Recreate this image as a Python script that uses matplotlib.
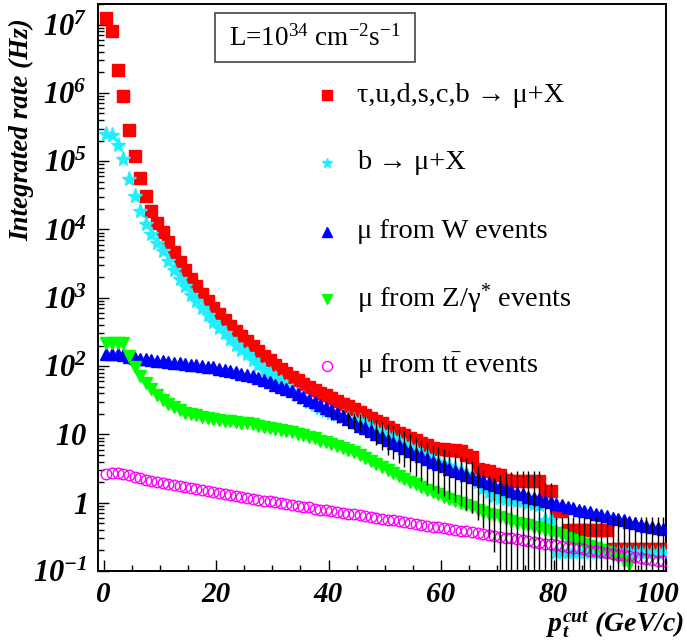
import numpy as np
import matplotlib
matplotlib.use("Agg")
import matplotlib.pyplot as plt
from matplotlib.patches import Rectangle
from matplotlib.transforms import blended_transform_factory
from matplotlib.ticker import FixedLocator, MultipleLocator, LogLocator, NullFormatter

plt.rcParams['mathtext.fontset'] = 'custom'
plt.rcParams['mathtext.rm'] = 'Liberation Serif'
plt.rcParams['mathtext.it'] = 'Liberation Serif:italic'
plt.rcParams['mathtext.bf'] = 'Liberation Serif:bold:italic'
plt.rcParams['font.family'] = ['Liberation Serif', 'DejaVu Serif']

# ---------------- data (log10 of integrated rate in Hz, per 1 GeV/c bin) ----------------
pt_centers = np.arange(100) + 0.5

log_all = [7.09, 6.90, 6.34, 5.95, 5.46, 5.07, 4.76, 4.49, 4.27, 4.10,
           3.96, 3.81, 3.67, 3.53, 3.41, 3.27, 3.17, 3.06, 2.96, 2.85,
           2.76, 2.68, 2.59, 2.51, 2.44, 2.37, 2.29, 2.22, 2.15, 2.09,
           2.02, 1.96, 1.90, 1.84, 1.79, 1.74, 1.70, 1.65, 1.61, 1.57,
           1.53, 1.49, 1.45, 1.41, 1.37, 1.33, 1.29, 1.24, 1.20, 1.16,
           1.11, 1.07, 1.02, 0.99, 0.95, 0.92, 0.88, 0.84, 0.80, 0.79,
           0.78, 0.77, 0.77, 0.76, 0.70, 0.67, 0.50, 0.48, 0.47, 0.42,
           0.40, 0.33, 0.32, 0.32, 0.32, 0.32, 0.32, 0.32, 0.17, 0.17,
           -0.12, -0.12, -0.40, -0.40, -0.40, -0.40, -0.40, -0.40, -0.40, -0.40,
           -0.68, -0.68, -0.68, -0.68, -0.68, -0.68, -0.68, -0.68, -0.68, -0.68]

log_b = [5.40, 5.39, 5.23, 5.03, 4.74, 4.49, 4.27, 4.08, 3.93, 3.80,
         3.68, 3.54, 3.41, 3.28, 3.17, 3.04, 2.95, 2.85, 2.75, 2.65,
         2.56, 2.48, 2.39, 2.31, 2.24, 2.17, 2.09, 2.02, 1.95, 1.89,
         1.82, 1.76, 1.70, 1.64, 1.58, 1.53, 1.48, 1.43, 1.38, 1.34,
         1.31, 1.28, 1.26, 1.23, 1.21, 1.19, 1.15, 1.11, 1.07, 1.03,
         0.98, 0.94, 0.90, 0.86, 0.81, 0.77, 0.72, 0.68, 0.63, 0.60,
         0.57, 0.53, 0.50, 0.46, 0.42, 0.38, 0.30, 0.22, 0.15, 0.10,
         0.07, 0.05, 0.04, 0.03, 0.02, 0.00, -0.02, -0.03, -0.25, -0.25,
         -0.72, -0.72, -0.72, -0.72, -0.72, -0.72, -0.72, -0.72, -0.72, -0.72,
         -0.72, -0.72, -0.72, -0.72, -0.72, -0.72, -0.72, -0.72, -0.72, -0.72]

b_rel_err = [0.0] * 40 + [
         0.20, 0.22, 0.24, 0.26, 0.28, 0.30, 0.33, 0.36, 0.40, 0.44,
         0.48, 0.50, 0.52, 0.54, 0.56, 0.58, 0.60, 0.62, 0.64, 0.65,
         0.66, 0.67, 0.68, 0.69, 0.70, 0.71, 0.72, 0.74, 0.78, 0.85,
         1.2, 1.5, 1.6, 1.7, 1.8, 1.9, 2.0, 2.1, 2.4, 2.4,
         2.2, 2.2, 2.2, 2.2, 2.2, 2.2, 2.2, 2.2, 2.2, 2.2,
         2.2, 2.2, 2.2, 2.2, 2.2, 2.2, 2.2, 2.2, 2.2, 2.2]

log_W = [2.17, 2.17, 2.17, 2.16, 2.14, 2.12, 2.11, 2.10, 2.09, 2.08,
         2.07, 2.06, 2.05, 2.04, 2.03, 2.02, 2.01, 2.00, 1.99, 1.98,
         1.96, 1.95, 1.93, 1.91, 1.89, 1.87, 1.85, 1.82, 1.79, 1.76,
         1.73, 1.70, 1.67, 1.63, 1.59, 1.55, 1.51, 1.47, 1.43, 1.39,
         1.35, 1.31, 1.27, 1.23, 1.18, 1.13, 1.09, 1.05, 1.00, 0.96,
         0.92, 0.88, 0.84, 0.80, 0.76, 0.72, 0.68, 0.64, 0.59, 0.56,
         0.53, 0.50, 0.47, 0.44, 0.41, 0.38, 0.35, 0.32, 0.29, 0.26,
         0.23, 0.20, 0.17, 0.14, 0.12, 0.09, 0.07, 0.05, 0.03, 0.01,
         -0.02, -0.04, -0.06, -0.08, -0.10, -0.12, -0.14, -0.16, -0.18, -0.20,
         -0.22, -0.24, -0.26, -0.28, -0.30, -0.32, -0.34, -0.36, -0.37, -0.39]

log_Z = [2.34, 2.34, 2.34, 2.34, 2.15, 1.99, 1.86, 1.75, 1.66, 1.58,
         1.51, 1.45, 1.40, 1.36, 1.32, 1.30, 1.28, 1.26, 1.24, 1.22,
         1.21, 1.20, 1.19, 1.18, 1.17, 1.16, 1.15, 1.13, 1.11, 1.10,
         1.08, 1.07, 1.05, 1.03, 1.01, 0.99, 0.96, 0.94, 0.91, 0.89,
         0.86, 0.83, 0.80, 0.77, 0.74, 0.70, 0.66, 0.61, 0.57, 0.52,
         0.48, 0.43, 0.39, 0.35, 0.31, 0.27, 0.23, 0.19, 0.15, 0.12,
         0.09, 0.06, 0.03, 0.00, -0.03, -0.06, -0.10, -0.13, -0.16, -0.18,
         -0.21, -0.24, -0.27, -0.29, -0.31, -0.33, -0.35, -0.37, -0.40, -0.43,
         -0.45, -0.48, -0.51, -0.54, -0.57, -0.60, -0.63, -0.66, -0.69, -0.72,
         -0.76, -0.80, -0.85, -0.90, np.nan, np.nan, np.nan, np.nan, np.nan, np.nan]

log_tt = [0.42, 0.43, 0.43, 0.42, 0.40, 0.375, 0.355, 0.335, 0.315, 0.30,
          0.285, 0.27, 0.255, 0.24, 0.225, 0.21, 0.20, 0.185, 0.17, 0.155,
          0.14, 0.125, 0.11, 0.10, 0.085, 0.07, 0.06, 0.045, 0.03, 0.02,
          0.005, -0.01, -0.02, -0.035, -0.05, -0.06, -0.07, -0.085, -0.10, -0.11,
          -0.12, -0.135, -0.15, -0.16, -0.17, -0.185, -0.20, -0.21, -0.22, -0.235,
          -0.25, -0.26, -0.27, -0.285, -0.30, -0.31, -0.32, -0.335, -0.35, -0.36,
          -0.37, -0.385, -0.40, -0.41, -0.42, -0.435, -0.45, -0.46, -0.47, -0.485,
          -0.50, -0.51, -0.52, -0.535, -0.55, -0.56, -0.57, -0.585, -0.60, -0.61,
          -0.62, -0.635, -0.65, -0.66, -0.67, -0.685, -0.70, -0.71, -0.72, -0.735,
          -0.75, -0.76, -0.77, -0.785, -0.80, -0.81, -0.82, -0.835, -0.85, -0.86]

legend_labels = [r'τ,u,d,s,c,b → μ+X',
                 r'b → μ+X',
                 r'μ from W events',
                 r'μ from Z/γ$^{*}$ events',
                 r'μ from t$\bar{\mathrm{t}}$ events']
lumi_text = r'L=10$^{34}$ cm$^{-2}$s$^{-1}$'
x_ticks = [0, 20, 40, 60, 80, 100]
y_ticks = [1e-1, 1, 1e1, 1e2, 1e3, 1e4, 1e5, 1e6, 1e7]
y_ticklabels = [r'$\mathbf{10^{-1}}$', r'$\mathbf{1}$', r'$\mathbf{10}$',
                r'$\mathbf{10^{2}}$', r'$\mathbf{10^{3}}$', r'$\mathbf{10^{4}}$',
                r'$\mathbf{10^{5}}$', r'$\mathbf{10^{6}}$', r'$\mathbf{10^{7}}$']

# ---------------- figure ----------------
fig = plt.figure(figsize=(6.87, 6.40), dpi=100)
ax = fig.add_axes([98 / 687, 69 / 640, 568 / 687, 567 / 640])

rate_all = np.power(10.0, log_all)
rate_b = np.power(10.0, log_b)
rate_W = np.power(10.0, log_W)
rate_Z = np.power(10.0, log_Z)
rate_tt = np.power(10.0, log_tt)
err_b = np.array(b_rel_err)

RED, CYAN, BLUE, GREEN, MAG = '#ff0000', '#1ff0ff', '#0000ff', '#00ff00', '#ff00ff'
styles = [
    (rate_all, dict(marker='s', ms=8.3, color=RED, mec=RED)),
    (rate_b, dict(marker='*', ms=11, color=CYAN, mec=CYAN)),
    (rate_W, dict(marker='^', ms=8.6, color=BLUE, mec=BLUE)),
    (rate_Z, dict(marker='v', ms=8.6, color=GREEN, mec=GREEN)),
    (rate_tt, dict(marker='o', ms=7.6, color=MAG, mec=MAG, mfc='none', mew=1.0)),
]
for k, (vals, st) in enumerate(styles):
    ax.plot(pt_centers, vals, ls='none', zorder=3 + k, **st)

# statistical error bars of the b -> mu + X sample
has_err = err_b > 0
lo = np.where(err_b >= 1, 1e-3, rate_b * (1 - np.minimum(err_b, 0.999)))
hi = rate_b * (1 + err_b)
ax.vlines(pt_centers[has_err], lo[has_err], hi[has_err], colors='black', lw=1.0, zorder=9)

ax.set_yscale('log')
ax.set_xlim(-1, 100)
ax.set_ylim(0.1, 2.0e7)

ax.xaxis.set_major_locator(FixedLocator(x_ticks))
ax.xaxis.set_minor_locator(MultipleLocator(5))
ax.set_xticklabels([])
ax.yaxis.set_major_locator(FixedLocator(y_ticks))
ax.yaxis.set_minor_locator(LogLocator(base=10, subs=np.arange(2, 10)))
ax.yaxis.set_minor_formatter(NullFormatter())
ax.set_yticklabels(y_ticklabels)
for lab in ax.get_yticklabels():
    lab.set_fontsize(22)

# x tick labels
xtr = blended_transform_factory(ax.transData, ax.transAxes)
x_label_shift = [0, 0, 0, 0, 0, -1.5]
for t, s in zip(x_ticks, x_label_shift):
    ax.text(t + s, -0.018, str(t), transform=xtr, ha='center', va='top',
            fontsize=21, fontweight='bold', fontstyle='italic')

ax.tick_params(which='major', direction='in', length=8, width=1.0, top=False, right=False)
ax.tick_params(which='minor', direction='in', length=4.3, width=1.0, top=False, right=False)
ax.tick_params(axis='y', which='major', pad=8)
for sp in ax.spines.values():
    sp.set_linewidth(1.4)

# axis titles
ax.text(-0.135, 0.975, 'Integrated rate (Hz)', transform=ax.transAxes, rotation=90,
        ha='center', va='top', fontsize=19.5, fontweight='bold', fontstyle='italic')
fig.text(684 / 687, 1 - 631 / 640, r'$\mathbf{p_{t}^{cut}}$ (GeV/c)', ha='right', va='baseline',
         fontsize=20, fontweight='bold', fontstyle='italic')

# luminosity box
ax.add_patch(Rectangle((0.206, 0.897), 0.352, 0.087, transform=ax.transAxes,
                       fill=True, fc='white', ec='#444444', lw=1.2, zorder=12))
ax.text(0.382, 0.940, lumi_text, transform=ax.transAxes, ha='center', va='center',
        fontsize=19.5, zorder=13)

# legend (manual, ROOT style)
leg_y = [0.8395, 0.7196, 0.598, 0.4797, 0.3616]
leg_ms = [7.2, 7.5, 7.2, 7.2, 7.2]
for k, (vals, st) in enumerate(styles):
    st2 = dict(st)
    st2['ms'] = leg_ms[k]
    ax.plot([0.403], [leg_y[k]], transform=ax.transAxes, ls='none', clip_on=False, zorder=12, **st2)
    ax.text(0.456, leg_y[k], legend_labels[k], transform=ax.transAxes, ha='left', va='center',
            fontsize=20.5, zorder=12)

fig.savefig('out.png', dpi=100)
